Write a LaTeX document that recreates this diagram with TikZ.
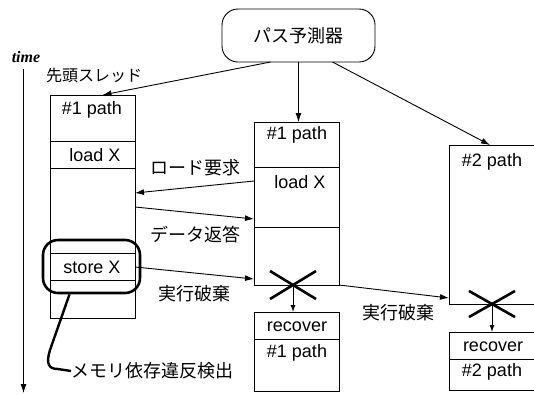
\documentclass[tikz,border=0pt]{standalone}
\usepackage{fontspec}
\setmainfont{Liberation Sans}
\newfontfamily\jp{Noto Sans CJK JP}
\newfontfamily\serifbi{Liberation Serif}
\usetikzlibrary{arrows.meta}
\begin{document}
\begin{tikzpicture}[x=1pt,y=-1pt,
  box/.style={draw,line width=0.8pt,inner sep=0pt,outer sep=0pt,anchor=north west},
  lbl/.style={inner sep=0pt,font=\fontsize{18}{18}\selectfont},
  jlbl/.style={inner sep=0pt,font=\fontsize{18}{18}\selectfont\jp},
  arr/.style={line width=0.9pt,-{Latex[length=9pt,width=6pt]}},
  sarr/.style={line width=0.9pt,-{Latex[length=7pt,width=5pt]}},
  cross/.style={line width=2.6pt},
  divl/.style={line width=0.8pt}]
\useasboundingbox (0,0) rectangle (534,394);
\fill[white] (0,0) rectangle (534,394);
\begin{scope}
\clip (0,0) rectangle (534,394);
% predictor
\node[draw,line width=0.9pt,rounded corners=16pt,minimum width=153pt,minimum height=53pt,inner sep=0pt,outer sep=0pt,font=\fontsize{18}{18}\selectfont\jp] (P) at (298.5,35.5) {パス予測器};
% boxes
\node[box,minimum width=85pt,minimum height=223pt] (L) at (50,95) {};
\node[box,minimum width=85pt,minimum height=163pt] (M) at (254,122) {};
\node[box,minimum width=100pt,minimum height=159pt] (R) at (449,145) {};
\node[box,minimum width=85pt,minimum height=79pt] (C1) at (254,312) {};
\node[box,minimum width=100pt,minimum height=58pt] (C2) at (449,332) {};
% dividers
\draw[divl] ([yshift=-46pt]L.north west) -- ([yshift=-46pt]L.north east);
\draw[divl] ([yshift=-73pt]L.north west) -- ([yshift=-73pt]L.north east);
\draw[divl] ([yshift=-158pt]L.north west) -- ([yshift=-158pt]L.north east);
\draw[divl] ([yshift=-185pt]L.north west) -- ([yshift=-185pt]L.north east);
\draw[divl] ([yshift=-45pt]M.north west) -- ([yshift=-45pt]M.north east);
\draw[divl] ([yshift=-105pt]M.north west) -- ([yshift=-105pt]M.north east);
\draw[divl] ([yshift=-27pt]C1.north west) -- ([yshift=-27pt]C1.north east);
\draw[divl] ([yshift=-27pt]C2.north west) -- ([yshift=-27pt]C2.north east);
% texts in boxes
\node[lbl] (l1) at (92,110) {\#1 path};
\node[lbl] (l2) at (95,155) {load X};
\node[lbl] (l3) at (92,267) {store X};
\node[lbl] (m1) at (297,135) {\#1 path};
\node[lbl] (m2) at (300,182) {load X};
\node[lbl] (r1) at (492,162) {\#2 path};
\node[lbl] (c11) at (297,327) {recover};
\node[lbl] (c12) at (297,353) {\#1 path};
\node[lbl] (c21) at (493,347) {recover};
\node[lbl] (c22) at (492,372) {\#2 path};
% labels
\node[jlbl,font=\fontsize{16}{16}\selectfont\jp] (sentou) at (94,75) {先頭スレッド};
\node[jlbl] (lreq) at (195,168) {ロード要求};
\node[jlbl] (dret) at (195,235) {データ返答};
\node[jlbl] (kh1) at (194,294) {実行破棄};
\node[jlbl] (kh2) at (398,313) {実行破棄};
\node[jlbl,anchor=west,font=\fontsize{18}{18}\selectfont\jp] (mem) at (71,371) {メモリ依存違反検出};
% time
\node[inner sep=0pt,font=\fontsize{16}{16}\selectfont\serifbi\bfseries\itshape] (time) at (26,57) {time};
\coordinate (t1) at (23.5,69);
\coordinate (t2) at (23.5,393);
\draw[arr] (t1) -- (t2);
% predictor arrows
\draw[arr] ([xshift=-28pt]P.south) -- ([xshift=10pt]L.north);
\draw[arr] (P.south) -- (P.south |- M.north);
\draw[arr] ([xshift=34pt]P.south) -- ([xshift=41pt]R.north west);
% messages
\draw[arr] ([yshift=-59pt]M.north west) -- ([yshift=-98pt]L.north east);
\draw[arr] ([yshift=-112pt]L.north east) -- ([yshift=-97pt]M.north west);
\draw[arr] ([yshift=-172pt]L.north east) -- ([yshift=-157pt]M.north west);
\draw[arr] (M.south east) -- ([yshift=6pt]R.south west);
% crosses
\coordinate (X1) at ([xshift=-3.5pt]M.south);
\coordinate (X2) at ([xshift=43pt]R.south west);
\draw[cross] ([shift={(-23,-14)}]X1) -- ([shift={(23,14)}]X1);
\draw[cross] ([shift={(-23,14)}]X1) -- ([shift={(23,-14)}]X1);
\draw[cross] ([shift={(-23,-13)}]X2) -- ([shift={(23,13)}]X2);
\draw[cross] ([shift={(-23,13)}]X2) -- ([shift={(23,-13)}]X2);
\draw[sarr] (X1) -- (X1 |- C1.north);
\draw[sarr] (X2) -- (X2 |- C2.north);
% highlight
\node[draw,line width=2.6pt,rounded corners=15pt,minimum width=97pt,minimum height=53pt,inner sep=0pt] (H) at (91.5,266.5) {};
\draw[line width=2.4pt] ([xshift=-22pt]H.south) -- (50,350) .. controls (46,363) and (48,369) .. (58,369) -- (mem.west);
\end{scope}
\end{tikzpicture}
\end{document}
